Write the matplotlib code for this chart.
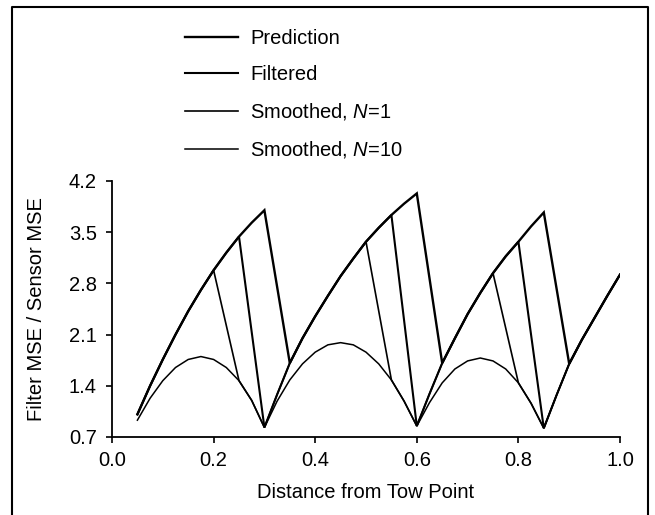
import numpy as np
import matplotlib
matplotlib.use("Agg")
import matplotlib.pyplot as plt
from matplotlib.lines import Line2D

plt.rcParams['font.family'] = ['Liberation Sans', 'DejaVu Sans']
plt.rcParams['mathtext.fontset'] = 'custom'
plt.rcParams['mathtext.rm'] = 'Liberation Sans'
plt.rcParams['mathtext.it'] = 'Liberation Sans:italic'

###################################################################################################
# Values, one segment per sensor gap
# upper = error growing away from a sensor, arch = smoothed (N=10) error

seg1_x = [0.05, 0.075, 0.1, 0.125, 0.15, 0.175, 0.2, 0.225, 0.25, 0.275, 0.3]
upper1 = [1.01, 1.40, 1.76, 2.10, 2.42, 2.71, 2.98, 3.22, 3.44, 3.63, 3.80]
arch1  = [0.93, 1.23, 1.47, 1.65, 1.76, 1.80, 1.76, 1.65, 1.47, 1.20, 0.83]

seg2_x = [0.3, 0.325, 0.35, 0.375, 0.4, 0.425, 0.45, 0.475, 0.5, 0.525, 0.55, 0.575, 0.6]
upper2 = [0.83, 1.28, 1.71, 2.05, 2.35, 2.63, 2.90, 3.14, 3.37, 3.56, 3.735, 3.89, 4.03]
arch2  = [0.83, 1.19, 1.48, 1.70, 1.86, 1.96, 1.99, 1.96, 1.86, 1.70, 1.48, 1.19, 0.85]

seg3_x = [0.6, 0.625, 0.65, 0.675, 0.7, 0.725, 0.75, 0.775, 0.8, 0.825, 0.85]
upper3 = [0.85, 1.29, 1.71, 2.05, 2.38, 2.67, 2.94, 3.17, 3.37, 3.58, 3.77]
arch3  = [0.85, 1.17, 1.44, 1.63, 1.74, 1.78, 1.74, 1.63, 1.44, 1.16, 0.82]

seg4_x = [0.85, 0.875, 0.9, 0.925, 0.95, 0.975, 1.0]
upper4 = [0.82, 1.27, 1.70, 2.03, 2.33, 2.63, 2.92]

labels = ['Prediction', 'Filtered', 'Smoothed, $N$=1', 'Smoothed, $N$=10']
widths = [1.7, 1.5, 1.2, 1.1]

xticks = [0.0, 0.2, 0.4, 0.6, 0.8, 1.0]
yticks = [0.7, 1.4, 2.1, 2.8, 3.5, 4.2]

###################################################################################################
# Build the four curves from the segments

pred_x = seg1_x + seg2_x[2:] + seg3_x[2:] + seg4_x[2:]
pred_y = upper1 + upper2[2:] + upper3[2:] + upper4[2:]

filt_x = seg1_x[:-2] + seg2_x[:-2] + seg3_x[:-2] + seg4_x
filt_y = upper1[:-2] + upper2[:-2] + upper3[:-2] + upper4

sm1_x = seg1_x[:-4] + seg1_x[-3:] + seg2_x[1:-4] + seg2_x[-3:] + seg3_x[1:-4] + seg3_x[-3:] + seg4_x[1:]
sm1_y = upper1[:-4] + arch1[-3:] + upper2[1:-4] + arch2[-3:] + upper3[1:-4] + arch3[-3:] + upper4[1:]

sm10_x = seg1_x + seg2_x[1:] + seg3_x[1:] + seg4_x[1:]
sm10_y = arch1 + arch2[1:] + arch3[1:] + upper4[1:]

curves = [(pred_x, pred_y), (filt_x, filt_y), (sm1_x, sm1_y), (sm10_x, sm10_y)]

###################################################################################################
# Plot

fs = 14.5
fig = plt.figure(figsize=(6.55, 5.15), dpi=100)
ax = fig.add_axes([112/655, 1-437/515, 508/655, 256/515])

for (cx, cy), lab, lw in zip(curves, labels, widths):
    ax.plot(cx, cy, color='black', lw=lw, label=lab, solid_joinstyle='miter')

ax.set_xlim(0.0, 1.0)
ax.set_ylim(0.7, 4.2)
ax.set_xticks(xticks)
ax.set_xticklabels(['%.1f' % t for t in xticks])
ax.set_yticks(yticks)
ax.set_yticklabels(['%.1f' % t for t in yticks])
ax.spines['top'].set_visible(False)
ax.spines['right'].set_visible(False)
ax.spines['left'].set_linewidth(1.3)
ax.spines['bottom'].set_linewidth(1.3)
ax.tick_params(direction='out', length=4, width=1.2, labelsize=fs, colors='black')
ax.tick_params(axis='x', pad=6)
ax.tick_params(axis='y', pad=7)

ax.set_xlabel('Distance from Tow Point', fontsize=fs)
ax.set_ylabel('Filter MSE / Sensor MSE', fontsize=fs)
ax.xaxis.set_label_coords(0.5, -0.18)
ax.yaxis.set_label_coords(-0.13, 0.5)

leg = ax.legend(loc='upper left', bbox_to_anchor=(185/655, 1-29/515),
                bbox_transform=fig.transFigure, frameon=False, fontsize=fs,
                handlelength=2.64, handletextpad=0.6, labelspacing=0.85,
                borderpad=0, borderaxespad=0)

# open frame round the figure (left, top, right)
fx = [12/655, 12/655, 648/655, 648/655]
fy = [0.0, 1-7/515, 1-7/515, 0.0]
fig.add_artist(Line2D(fx, fy, transform=fig.transFigure, color='black', lw=1.5))

fig.savefig('out.png', dpi=100)
